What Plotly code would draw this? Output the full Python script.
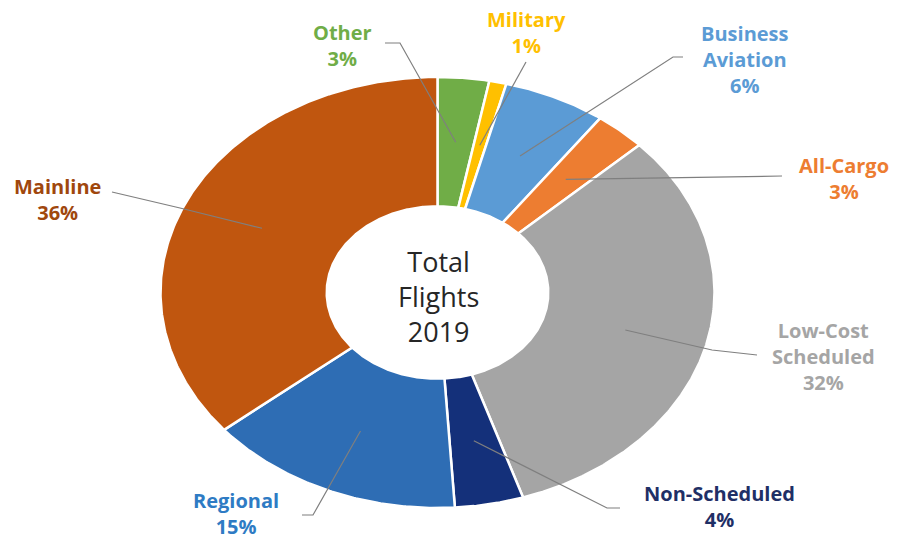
import numpy as np
import plotly.graph_objects as go

# ---- data -------------------------------------------------------------
categories = ["Other", "Military", "Business Aviation", "All-Cargo",
              "Low-Cost Scheduled", "Non-Scheduled", "Regional", "Mainline"]
label_lines = ["Other", "Military", "Business<br>Aviation", "All-Cargo",
               "Low-Cost<br>Scheduled", "Non-Scheduled", "Regional", "Mainline"]
shares = [3, 1, 6, 3, 32, 4, 15, 36]          # percent of total flights
center_title = ["Total", "Flights", "2019"]

# ---- style ------------------------------------------------------------
slice_colors = ["#70AD47", "#FFC000", "#5B9BD5", "#ED7D31",
                "#A5A5A5", "#14307A", "#2E6DB4", "#C0560F"]
label_colors = ["#70AD47", "#FFC000", "#5B9BD5", "#ED7D31",
                "#A5A5A5", "#1F2F66", "#2E7BC4", "#A0470D"]

W, H = 901, 539
CX, CY = 437.5, 292.5          # pixel centre of the doughnut
RX, RY = 277.0, 215.5          # pixel radii (ellipse)
HOLE = 0.40
LEADER_R = 0.70

# label block centres and leader-line anchor points (pixels)
label_pos = [(342, 45), (526, 33), (745, 59), (844, 178),
             (823, 356), (719, 506), (236, 513), (58, 199)]
leader_start = [[(385, 43), (400, 43)], [(526, 62)], [(683, 57), (673, 57)],
                [(782, 176)], [(757, 355), (712, 350)],
                [(620, 508), (607, 508)], [(302, 515), (313, 515)],
                [(112, 192), (180, 208)]]


def px_to_data(px, py):
    return (px - CX) / RX, (CY - py) / RY


fig = go.Figure()

total = float(sum(shares))
cum = np.concatenate([[0.0], np.cumsum(shares)]) / total
for i, cat in enumerate(categories):
    a0, a1 = cum[i] * 2 * np.pi, cum[i + 1] * 2 * np.pi
    t = np.linspace(a0, a1, max(8, int((a1 - a0) * 120)))
    xs = np.concatenate([np.sin(t), HOLE * np.sin(t[::-1])])
    ys = np.concatenate([np.cos(t), HOLE * np.cos(t[::-1])])
    xs = np.append(xs, xs[0])
    ys = np.append(ys, ys[0])
    fig.add_trace(go.Scatter(
        x=xs, y=ys, mode="lines", fill="toself",
        fillcolor=slice_colors[i],
        line=dict(color="white", width=2.5),
        name=cat, hoverinfo="name", showlegend=False))

# leader lines from each label to its slice
for i, cat in enumerate(categories):
    mid = (cum[i] + cum[i + 1]) / 2 * 2 * np.pi
    pts = [px_to_data(*p) for p in leader_start[i]]
    pts.append((LEADER_R * np.sin(mid), LEADER_R * np.cos(mid)))
    fig.add_trace(go.Scatter(
        x=[p[0] for p in pts], y=[p[1] for p in pts], mode="lines",
        line=dict(color="#7F7F7F", width=1.2),
        hoverinfo="skip", showlegend=False))

# category labels
for i, cat in enumerate(categories):
    px, py = label_pos[i]
    fig.add_annotation(
        x=px / W, y=1 - py / H, xref="paper", yref="paper",
        text=f"<b>{label_lines[i]}<br>{shares[i]}%</b>",
        showarrow=False, xanchor="center", yanchor="middle", align="center",
        font=dict(family="Open Sans", size=20, color=label_colors[i]))

# centre title
fig.add_annotation(
    x=438 / W, y=1 - 296 / H, xref="paper", yref="paper",
    text="<br>".join(center_title), showarrow=False,
    xanchor="center", yanchor="middle", align="center",
    font=dict(family="Open Sans", size=27, color="#262626"))

fig.update_xaxes(range=[-CX / RX, (W - CX) / RX], visible=False, fixedrange=True)
fig.update_yaxes(range=[(CY - H) / RY, CY / RY], visible=False, fixedrange=True)
fig.update_layout(
    width=W, height=H, margin=dict(l=0, r=0, t=0, b=0),
    paper_bgcolor="white", plot_bgcolor="white")

fig.write_html("out.html")
